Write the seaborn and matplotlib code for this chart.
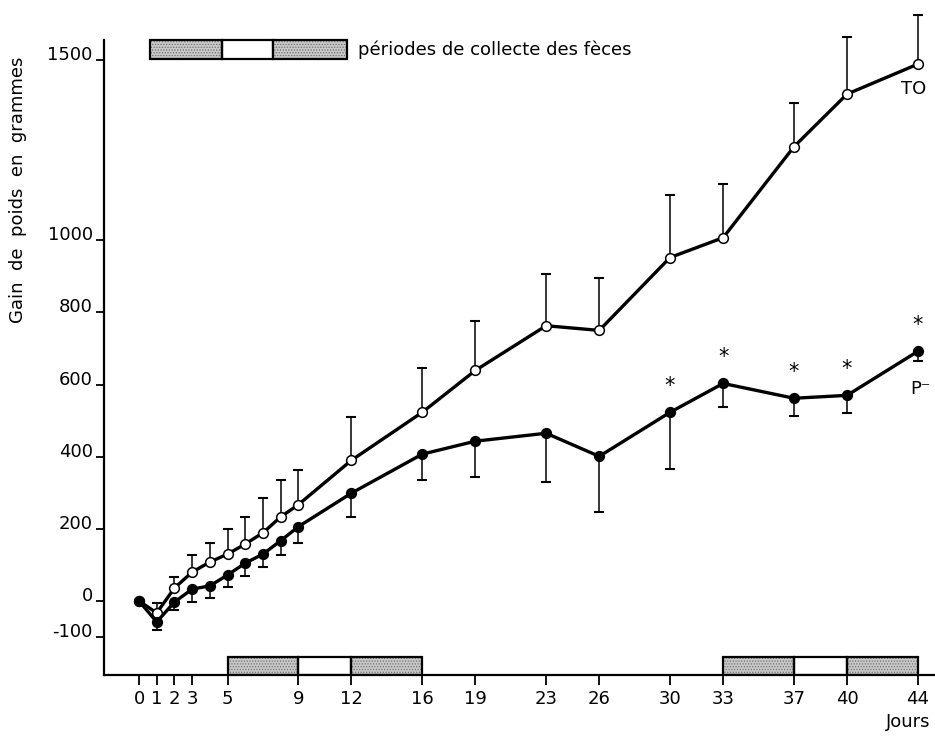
import numpy as np
import pandas as pd
import matplotlib
matplotlib.use("Agg")
import matplotlib.pyplot as plt
from matplotlib.patches import Rectangle
import seaborn as sns

# Data
days = [0, 1, 2, 3, 4, 5, 6, 7, 8, 9, 12, 16, 19, 23, 26, 30, 33, 37, 40, 44]
to_mean = [0, -33, 36, 80, 108, 130, 158, 189, 233, 267, 390, 523, 639, 763, 750,
           952, 1007, 1259, 1405, 1488]
to_top = [np.nan, -6, 67, 128, 161, 200, 233, 286, 336, 364, 510, 645, 775, 905, 896,
          1126, 1156, 1380, 1563, 1624]
p_mean = [0, -58, -3, 33, 42, 72, 105, 130, 167, 206, 299, 407, 443, 465, 401,
          523, 603, 562, 570, 692]
p_bottom = [np.nan, -80, -25, -3, 8, 39, 70, 95, 128, 161, 233, 335, 343, 329, 246,
            365, 539, 512, 520, 664]
sig_days = [30, 33, 37, 40, 44]

# collection periods: shaded / white / shaded
periods = [(5, 9, 12, 16), (33, 37, 40, 44)]

x_ticks = [0, 1, 2, 3, 5, 9, 12, 16, 19, 23, 26, 30, 33, 37, 40, 44]
y_ticks = [-100, 0, 200, 400, 600, 800, 1000, 1500]
y_tick_labels = ["-100", "0", "200", "400", "600", "800", "1000", "1500"]

df = pd.DataFrame({"jour": days, "TO": to_mean, "P": p_mean})

sns.set_style("ticks")
plt.rcParams["font.family"] = ["DejaVu Sans"]
plt.rcParams["hatch.linewidth"] = 0.6
for k in ["text.color", "axes.labelcolor", "xtick.color", "ytick.color",
          "axes.edgecolor"]:
    plt.rcParams[k] = "black"

fig = plt.figure(figsize=(9.35, 7.36), dpi=100)
ax = fig.add_axes([0.1112, 0.0829, 0.8888, 0.8628])

# error bars (TO upward, P- downward)
ax.vlines(days, to_mean, to_top, color="black", lw=1.1, zorder=2, clip_on=False)
ax.plot(days, to_top, ls="none", marker="_", markersize=7, markeredgewidth=1.5,
        color="black", clip_on=False, zorder=2)
ax.vlines(days, p_bottom, p_mean, color="black", lw=1.1, zorder=2, clip_on=False)
ax.plot(days, p_bottom, ls="none", marker="_", markersize=7, markeredgewidth=1.5,
        color="black", clip_on=False, zorder=2)

# lines
sns.lineplot(data=df, x="jour", y="TO", ax=ax, color="black", linewidth=2.4,
             marker="o", markersize=7, markerfacecolor="white",
             markeredgecolor="black", markeredgewidth=1.1, zorder=3, clip_on=False)
sns.lineplot(data=df, x="jour", y="P", ax=ax, color="black", linewidth=2.4,
             marker="o", markersize=7, markerfacecolor="black",
             markeredgecolor="black", markeredgewidth=1.1, zorder=4, clip_on=False)

# collection period boxes on the x axis
for a, b, c, d in periods:
    for lo, hi, shaded in [(a, b, True), (b, c, False), (c, d, True)]:
        if shaded:
            ax.axvspan(lo, hi, ymin=0, ymax=0.029, facecolor="#c9c9c9",
                       edgecolor="#6e6e6e", hatch="......", lw=0, zorder=1)
        ax.axvspan(lo, hi, ymin=0, ymax=0.029, facecolor="none",
                   edgecolor="black", lw=1.6, zorder=1.5)

# key box at the top
key = [(0.0554, 0.1420, True), (0.1420, 0.2034, False), (0.2034, 0.2924, True)]
for lo, hi, shaded in key:
    if shaded:
        ax.add_patch(Rectangle((lo, 0.970), hi - lo, 0.030, transform=ax.transAxes,
                               facecolor="#c9c9c9", edgecolor="#6e6e6e",
                               hatch="......", lw=0, clip_on=False))
    ax.add_patch(Rectangle((lo, 0.970), hi - lo, 0.030, transform=ax.transAxes,
                           facecolor="none", edgecolor="black", lw=1.6, clip_on=False))
ax.text(0.3056, 0.985, "périodes de collecte des fèces", transform=ax.transAxes,
        ha="left", va="center", fontsize=13)

# series labels and significance marks
ax.annotate("TO", xy=(days[-1], to_mean[-1]), xytext=(-3, -18),
            textcoords="offset points", ha="center", va="center", fontsize=13)
ax.annotate("P\u207b", xy=(days[-1], p_mean[-1]), xytext=(2, -27),
            textcoords="offset points", ha="center", va="center", fontsize=13)
for d in sig_days:
    i = days.index(d)
    ax.annotate("*", xy=(d, p_mean[i]), xytext=(0, 19), textcoords="offset points",
                ha="center", va="center", fontsize=15)

# axes
ax.set_xlim(-1.98, 44.97)
ax.set_ylim(-205, 1555)
ax.set_xticks(x_ticks)
ax.set_xticklabels([str(t) for t in x_ticks])
ax.set_yticks(y_ticks)
ax.set_yticklabels(y_tick_labels)
plt.setp(ax.get_yticklabels(), va="baseline")
ax.tick_params(axis="x", direction="out", length=7, width=1.3, pad=4, labelsize=13)
ax.tick_params(axis="y", direction="out", length=6, width=1.3, pad=2, labelsize=13)
ax.set_xlabel("")
ax.set_ylabel("")
for s in ["top", "right"]:
    ax.spines[s].set_visible(False)
for s in ["left", "bottom"]:
    ax.spines[s].set_linewidth(1.6)

fig.text(0.019, 0.742, "Gain  de  poids  en  grammes", rotation=90,
         ha="center", va="center", fontsize=13)
fig.text(0.9947, 0.019, "Jours", ha="right", va="center", fontsize=13)

fig.savefig("out.png", dpi=100)
